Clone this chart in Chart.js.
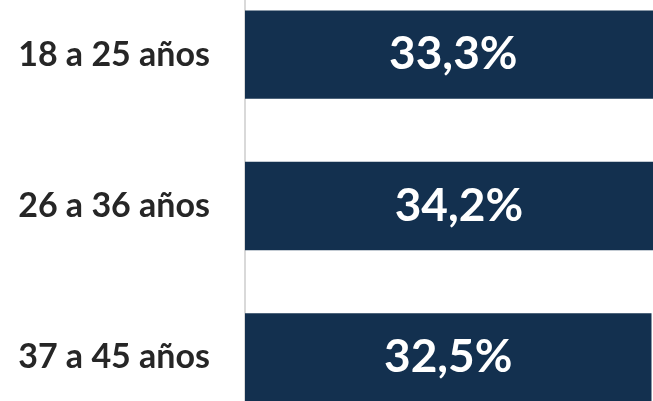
<!DOCTYPE html>
<html>
<head>
<meta charset="utf-8">
<script src="https://cdn.jsdelivr.net/npm/chart.js@4"></script>
<style>
  html, body { margin: 0; padding: 0; background: #ffffff; overflow: hidden; width: 653px; height: 401px; }
  #wrap { position: absolute; left: 0; top: -21px; width: 653px; height: 454px; }
</style>
</head>
<body>
<div id="wrap"><canvas id="c" width="653" height="454"></canvas></div>
<script>
const categories = ["18 a 25 años", "26 a 36 años", "37 a 45 años"];
const values = [33.3, 34.2, 32.5];
const barColor = "#13304f";

const valueLabels = {
  id: "valueLabels",
  afterDatasetsDraw(chart) {
    const ctx = chart.ctx;
    const meta = chart.getDatasetMeta(0);
    ctx.save();
    ctx.fillStyle = "#ffffff";
    ctx.font = "bold 46px Lato";
    ctx.textAlign = "center";
    ctx.textBaseline = "middle";
    meta.data.forEach((el, i) => {
      const txt = values[i].toFixed(1).replace(".", ",") + "%";
      ctx.fillText(txt, (el.x + el.base) / 2, el.y);
    });
    ctx.restore();
  }
};

new Chart(document.getElementById("c"), {
  type: "bar",
  data: {
    labels: categories,
    datasets: [{
      data: values,
      backgroundColor: barColor,
      borderWidth: 0,
      categoryPercentage: 1,
      barPercentage: 0.584
    }]
  },
  options: {
    indexAxis: "y",
    responsive: false,
    animation: false,
    layout: { padding: 0 },
    plugins: { legend: { display: false }, tooltip: { enabled: false } },
    scales: {
      x: { display: false, min: 0, max: 32.62 },
      y: {
        afterFit(scale) { scale.width = 245; scale.paddingTop = 0; scale.paddingBottom = 0; },
        grid: { display: false, drawTicks: false, tickLength: 0 },
        border: { display: true, color: "#d9d9d9", width: 2 },
        ticks: {
          padding: 35,
          color: "#262626",
          font: { family: "Lato", weight: "bold", size: 34 }
        }
      }
    }
  },
  plugins: [valueLabels]
});
</script>
</body>
</html>
